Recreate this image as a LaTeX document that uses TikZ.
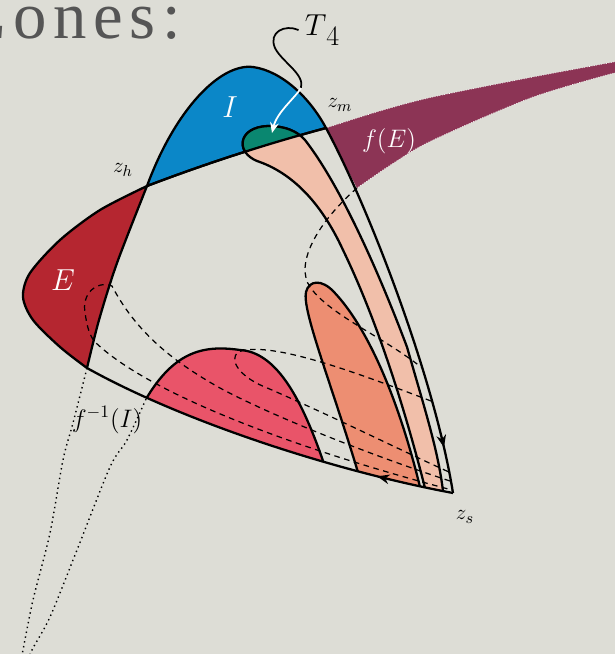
\documentclass[tikz,border=0pt]{standalone}
\usepackage{fontspec}
\newfontfamily\headfont[LetterSpace=10]{Liberation Serif}
\usetikzlibrary{arrows.meta,decorations.markings}

\definecolor{slidebg}{RGB}{221,221,214}
\definecolor{headgrey}{RGB}{85,85,85}
\definecolor{iblue}{RGB}{11,135,200}
\definecolor{tgreen}{RGB}{10,135,112}
\definecolor{bandpink}{RGB}{241,191,170}
\definecolor{orng}{RGB}{237,142,114}
\definecolor{humpred}{RGB}{233,84,105}
\definecolor{edred}{RGB}{181,38,48}
\definecolor{fepurple}{RGB}{140,52,85}

\begin{document}
\begin{tikzpicture}[
  x=0.02cm, y=-0.02cm,
  edge/.style={line width=1.3pt, line join=round},
  fold/.style={line width=0.7pt, dash pattern=on 3.2pt off 2.6pt},
  pre/.style={dotted, line width=0.8pt},
  lab/.style={font=\fontsize{13}{15}\selectfont},
  inlab/.style={text=white, font=\fontsize{18}{20}\selectfont},
  flow/.style={postaction={decorate}, decoration={markings,
    mark=at position #1 with {\arrow{Stealth[length=7pt,width=5.5pt]}}}},
  flowback/.style={postaction={decorate}, decoration={markings,
    mark=at position #1 with {\arrowreversed{Stealth[length=7pt,width=5.5pt]}}}}
]
\useasboundingbox (0,0) rectangle (615,654);
\fill[slidebg] (0,0) rectangle (615,654);
\clip (0,0) rectangle (615,654);

% heading
\node[anchor=base east, text=headgrey, font=\headfont\fontsize{38}{42}\selectfont]
  (zones) at (187,38) {Zones:};

% key points
\coordinate (zh) at (147,186);
\coordinate (zm) at (326,128);
\coordinate (zs) at (453,493);
\coordinate (eb) at (87,368);
\coordinate (hb) at (146,399);

% f(E)
\fill[fepurple] plot[smooth] coordinates {(326,128) (380,111) (433,97) (533,77) (625,60)}
  -- plot[smooth] coordinates {(625,70) (533,97) (433,140) (395,162) (357,188)}
  -- plot[smooth] coordinates {(357,188) (341,157) (326,128)} -- cycle;
\draw[white, densely dotted, line width=0.4pt]
  plot[smooth] coordinates {(326,128) (380,111) (433,97) (533,77) (625,60)};
\draw[white, densely dotted, line width=0.4pt]
  plot[smooth] coordinates {(625,70) (533,97) (433,140) (395,162) (357,188)};

% I
\filldraw[fill=iblue, edge] (zh) .. controls (175,110) and (220,63) .. (253,67)
  .. controls (282,71) and (310,98) .. (zm)
  .. controls (270,143) and (210,162) .. (zh) -- cycle;

% E
\filldraw[fill=edred, edge] plot[smooth] coordinates {(147,186) (100,210) (60,240) (30,273) (23,297) (33,320) (60,347) (87,368)}
  -- plot[smooth] coordinates {(87,368) (99,320) (117,263) (147,186)} -- cycle;

% regions resting on the lower side
\begin{scope}
  \clip (eb) .. controls (180,420) and (330,470) .. (zs) -- (620,493) -- (620,0) -- (0,0) -- (0,368) -- cycle;
  % band and T4
  \filldraw[fill=bandpink, edge] (428,500) -- (425,488) .. controls (400,390) and (372,310) .. (343,250)
    .. controls (320,200) and (290,172) .. (257,161)
    .. controls (235,152) and (238,127) .. (268,126)
    .. controls (285,126) and (297,131) .. (305,140)
    .. controls (340,185) and (378,270) .. (407,347)
    .. controls (425,410) and (438,450) .. (443,491) -- (444,503) -- cycle;
  \begin{scope}
    \clip (zh) .. controls (210,162) and (270,143) .. (zm) -- (326,0) -- (147,0) -- cycle;
    \filldraw[fill=tgreen, edge] (257,161)
      .. controls (235,152) and (238,127) .. (268,126)
      .. controls (285,126) and (297,131) .. (305,140)
      .. controls (320,160) and (330,175) .. (340,190) -- (250,190) -- cycle;
  \end{scope}
  % orange
  \filldraw[fill=orng, edge] (361,482) -- (357,469) .. controls (330,380) and (302,310) .. (306,292)
    .. controls (309,280) and (322,279) .. (334,292)
    .. controls (370,330) and (400,405) .. (420,487) -- (423,500) -- cycle;
  % hump
  \fill[humpred] (140,409) -- (hb) .. controls (175,350) and (205,345) .. (240,350)
    .. controls (275,352) and (300,395) .. (322,458) -- (326,470) -- cycle;
  \draw[edge] (140,409) -- (hb) .. controls (175,350) and (205,345) .. (240,350)
    .. controls (275,352) and (300,395) .. (322,458) -- (326,470);
\end{scope}

% folds
\draw[fold] (357,188) .. controls (315,225) and (295,265) .. (310,287)
  .. controls (330,315) and (380,335) .. (421,367);
\draw[fold] (431,401) .. controls (350,370) and (280,345) .. (245,350)
  .. controls (225,353) and (235,375) .. (265,387)
  .. controls (330,415) and (400,450) .. (449,472);
\draw[fold] (450,481) .. controls (380,458) and (280,420) .. (220,388)
  .. controls (170,360) and (135,330) .. (112,286)
  .. controls (95,280) and (82,295) .. (85,312)
  .. controls (87,328) and (90,336) .. (95,342)
  .. controls (150,395) and (300,450) .. (452,490);

% boundary
\draw[edge] (zh) .. controls (210,162) and (270,143) .. (zm);
\draw[edge, flow=0.88] (zm) .. controls (370,210) and (435,380) .. (zs);
\draw[edge, flowback=0.8] (eb) .. controls (180,420) and (330,470) .. (zs);

% preimage
\draw[pre] plot[smooth] coordinates {(87,368) (73,423) (63,460) (50,533) (33,600) (23,650) (19,670)};
\draw[pre] plot[smooth] coordinates {(146,399) (127,440) (110,467) (77,550) (50,617) (32,650) (25,670)};

% labels
\node[lab] (zhl) at (123,170) {$z_h$};
\node[lab] (zml) at (340,105) {$z_m$};
\node[lab] (zsl) at (465,517) {$z_s$};
\node[inlab] (Il) at (230,107) {$I$};
\node[inlab] (El) at (63,280) {$E$};
\node[inlab, font=\fontsize{15}{17}\selectfont] (fEl) at (389,141) {$f(E)$};
\node[lab, font=\fontsize{14}{16}\selectfont] (fIl) at (107,420) {$f^{-1}(I)$};
\node[font=\fontsize{16}{18}\selectfont] (T4) at (322,30) {$T$\raisebox{-0.36em}{4}};
\coordinate (t4in) at (301,88);
\draw[line width=1pt] (T4.west) .. controls (285,24) and (268,32) .. (275,48)
  .. controls (282,62) and (305,74) .. (t4in);
\draw[white, line width=1pt, -{Stealth[length=6pt,width=5pt]}] (t4in) .. controls (295,98) and (277,112) .. (272,133);
\end{tikzpicture}
\end{document}
